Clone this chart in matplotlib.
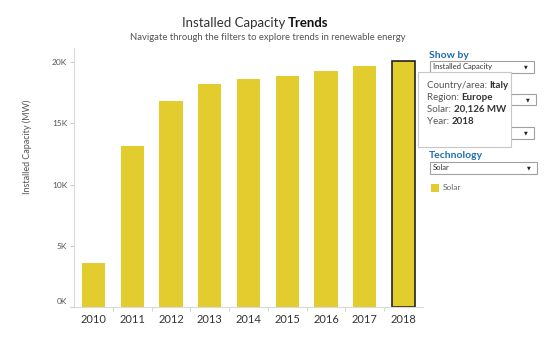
import matplotlib.pyplot as plt
from matplotlib.patches import Rectangle
from matplotlib.text import Annotation
from matplotlib.ticker import FuncFormatter
import matplotlib.transforms as mtransforms

plt.rcParams['font.family'] = ['Lato', 'DejaVu Sans']

# Installed solar capacity for Italy (MW)
years = ['2010', '2011', '2012', '2013', '2014', '2015', '2016', '2017', '2018']
capacity = [3597, 13131, 16785, 18185, 18594, 18901, 19283, 19682, 20126]
y_ticks = [0, 5000, 10000, 15000, 20000]

tooltip_rows = [('Country/area: ', 'Italy'), ('Region: ', 'Europe'),
                ('Solar: ', '20,126 MW'), ('Year: ', '2018')]

W, H = 548, 338
BAR = '#e3cc2e'
BLUE = '#1f6db3'

fig = plt.figure(figsize=(W / 100, H / 100), dpi=100)


def fx(px):
    return px / W


def fy(py):
    return 1 - py / H


ax = fig.add_axes([fx(74), fy(307), fx(423) - fx(74), fy(48) - fy(307)])
xs = range(len(years))
bars = ax.bar(xs, capacity, width=0.6, color=BAR, zorder=2)
bars[-1].set_edgecolor('#222222')
bars[-1].set_linewidth(1.2)

ax.set_xlim(-0.5, len(years) - 0.5)
ax.set_ylim(0, 21150)
ax.set_xticks(list(xs))
ax.set_xticklabels(years, fontsize=8, color='#333333')
ax.set_xticks([i + 0.5 for i in range(len(years) - 1)], minor=True)
ax.tick_params(axis='x', which='major', length=0, pad=5)
ax.tick_params(axis='x', which='minor', length=3, color='#cccccc')
ax.set_yticks(y_ticks)
ax.yaxis.set_major_formatter(FuncFormatter(lambda v, p: '%dK' % (v / 1000)))
ax.tick_params(axis='y', labelsize=6, labelcolor='#555555', length=3,
               color='#cccccc', pad=2)
# Tableau keeps the zero label just above the baseline
lab0 = ax.get_yticklabels()[0]
lab0.set_transform(lab0.get_transform() + mtransforms.ScaledTranslation(0, 4 / 72, fig.dpi_scale_trans))
for side in ['top', 'right']:
    ax.spines[side].set_visible(False)
for side in ['left', 'bottom']:
    ax.spines[side].set_color('#d9d9d9')
    ax.spines[side].set_linewidth(0.8)
ax.set_ylabel('Installed Capacity (MW)', fontsize=6.5, color='#555555')
ax.yaxis.set_label_coords(-0.12, 0.62)

# title with bold last word
fig.text(fx(285), fy(23), 'Installed Capacity', ha='right', va='center',
         fontsize=9.5, color='#333333')
fig.text(fx(288), fy(23), 'Trends', ha='left', va='center', fontsize=9.5,
         color='#111111', fontweight='bold')
fig.text(fx(268), fy(37), 'Navigate through the filters to explore trends in renewable energy',
         ha='center', va='center', fontsize=6.8, color='#555555')


def dropdown(x0, y0, x1, y1, label=''):
    fig.patches.append(Rectangle((fx(x0), fy(y1)), fx(x1) - fx(x0), fy(y0) - fy(y1),
                                 transform=fig.transFigure, facecolor='white',
                                 edgecolor='#a0a0a0', linewidth=0.8, zorder=3))
    if label:
        fig.text(fx(x0 + 3), fy((y0 + y1) / 2), label, fontsize=5.5, color='#333333',
                 va='center', zorder=4)
    fig.text(fx(x1 - 8), fy((y0 + y1) / 2), '\u25bc', fontsize=3.5, color='#222222',
             va='center', ha='center', zorder=4, family='DejaVu Sans')


fig.text(fx(429), fy(55), 'Show by', fontsize=7.5, color=BLUE, fontweight='bold', va='center')
dropdown(430, 61, 534, 73, 'Installed Capacity')
dropdown(430, 94, 536, 105)
dropdown(430, 127, 534, 139)
fig.text(fx(429), fy(155), 'Technology', fontsize=7.5, color=BLUE, fontweight='bold', va='center')
dropdown(430, 162, 537, 174, 'Solar')
fig.patches.append(Rectangle((fx(431), fy(192)), fx(8), fy(0) - fy(8),
                             transform=fig.transFigure, facecolor=BAR, edgecolor='none'))
fig.text(fx(443), fy(188), 'Solar', fontsize=6, color='#666666', va='center')

# tooltip
fig.patches.append(Rectangle((fx(419), fy(148)), fx(93), fy(0) - fy(75),
                             transform=fig.transFigure, facecolor='#dddddd',
                             edgecolor='none', zorder=5))
fig.patches.append(Rectangle((fx(418), fy(147)), fx(93), fy(0) - fy(75),
                             transform=fig.transFigure, facecolor='white',
                             edgecolor='#c8c8c8', linewidth=0.8, zorder=6))
for i, (key, val) in enumerate(tooltip_rows):
    k = fig.text(fx(427), fy(86 + 11.7 * i), key, fontsize=7, color='#555555',
                 va='center', zorder=7)
    ann = Annotation(val, xy=(1, 0.5), xycoords=k, va='center', ha='left', fontsize=7,
                     color='#333333', fontweight='bold', annotation_clip=False)
    ann.set_zorder(7)
    fig.add_artist(ann)

fig.savefig('out.png', dpi=100)
